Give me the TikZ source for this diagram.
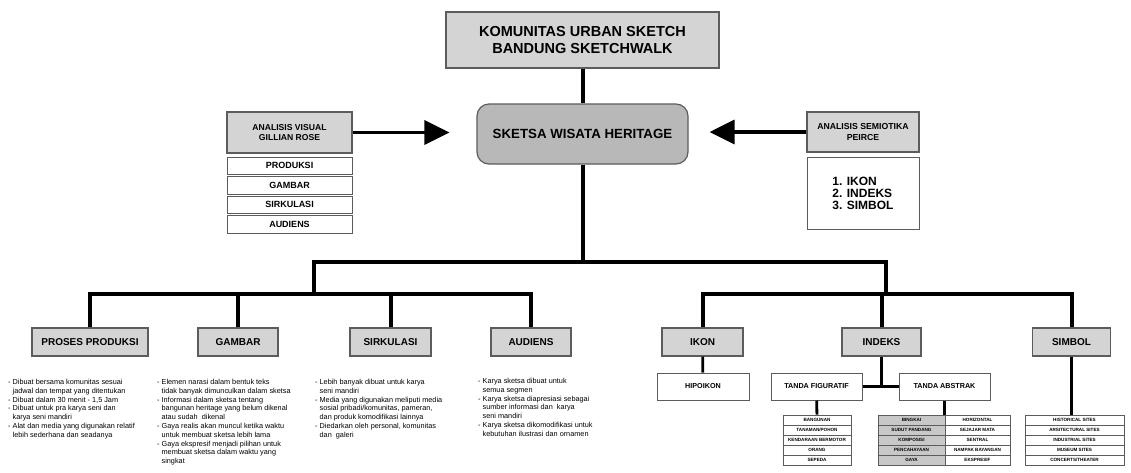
\documentclass[tikz,border=0pt]{standalone}
\usepackage{fontspec}
\setmainfont{Liberation Sans}
\usetikzlibrary{arrows.meta,positioning}

\definecolor{boxgrey}{HTML}{D4D4D4}
\definecolor{heritagegrey}{HTML}{B8B8B8}
\definecolor{cellgrey}{HTML}{C8C8C8}
\definecolor{edgegrey}{HTML}{5C5C5C}
\newcommand{\cont}{\hphantom{- }}

\begin{document}
\begin{tikzpicture}[x=1pt,y=-1pt,
    grey box/.style={draw=edgegrey,fill=boxgrey,line width=1.2pt,align=center,inner sep=0pt},
    white box/.style={draw=edgegrey,fill=white,line width=1pt,align=center,inner sep=0pt},
    level box/.style={grey box,minimum height=28pt,font=\fontsize{10}{12}\selectfont\bfseries},
    tree line/.style={line width=4pt},
    sub line/.style={line width=2.8pt},
    big arrow/.style={line width=3.5pt,-{Triangle[length=25pt,width=24pt]}},
    note/.style={anchor=north west,align=left,inner sep=0pt,font=\fontsize{7.3}{8.8}\selectfont},
    cell/.style={draw=edgegrey,line width=0.6pt,minimum height=10pt,inner sep=0pt,
                 font=\fontsize{4.6}{5}\selectfont\bfseries}]

  \fill[white] (0,0) rectangle (1131,472);
  \useasboundingbox (0,0) rectangle (1131,472);

  % top of the tree
  \node[grey box,minimum width=273pt,minimum height=56pt,
        font=\fontsize{14.5}{16.5}\selectfont\bfseries] (komunitas) at (582.5,40)
        {KOMUNITAS URBAN SKETCH\\BANDUNG SKETCHWALK};
  \node[grey box,fill=heritagegrey,rounded corners=12pt,minimum width=211pt,minimum height=60pt,
        font=\fontsize{13.3}{15}\selectfont\bfseries] (sketsa) at (582.5,134) {SKETSA WISATA HERITAGE};

  % analisis visual
  \node[grey box,minimum width=125pt,minimum height=41pt,
        font=\fontsize{8.6}{10.3}\selectfont\bfseries] (visual) at (289.5,132.5)
        {ANALISIS VISUAL\\GILLIAN ROSE};
  \tikzset{row/.style={white box,minimum width=125pt,minimum height=17.5pt,
                       font=\fontsize{9}{10}\selectfont\bfseries}}
  \node[row,below=3pt of visual] (vis1) {PRODUKSI};
  \node[row,below=1pt of vis1] (vis2) {GAMBAR};
  \node[row,below=1pt of vis2] (vis3) {SIRKULASI};
  \node[row,below=1pt of vis3] (vis4) {AUDIENS};

  % analisis semiotika
  \node[grey box,minimum width=112pt,minimum height=40pt,
        font=\fontsize{8.7}{10.3}\selectfont\bfseries] (semiotika) at (863,132)
        {ANALISIS SEMIOTIKA\\PEIRCE};
  \node[white box,below=4pt of semiotika,minimum width=112pt,minimum height=72pt,align=left,
        font=\fontsize{12}{11.8}\selectfont\bfseries] (semlist)
        {1. IKON\\2. INDEKS\\3. SIMBOL};

  \draw[big arrow,shorten >=27pt] (visual.east) -- (visual.east -| sketsa.west);
  \draw[big arrow,shorten >=21pt] (semiotika.west) -- (semiotika.west -| sketsa.east);
  \draw[tree line] (komunitas) -- (sketsa);

  % second level
  \node[level box,minimum width=116pt] (proses) at (90,342) {PROSES PRODUKSI};
  \node[level box,minimum width=80pt] (gambar) at (238,342) {GAMBAR};
  \node[level box,minimum width=81pt] (sirkulasi) at (390.5,342) {SIRKULASI};
  \node[level box,minimum width=80pt] (audiens) at (531,342) {AUDIENS};
  \node[level box,minimum width=81pt] (ikon) at (702.5,342) {IKON};
  \node[level box,minimum width=79pt] (indeks) at (881.5,342) {INDEKS};
  \node[level box,minimum width=78pt] (simbol) at (1071.5,342) {SIMBOL};

  \coordinate (hub) at (582.5,262);
  \coordinate (hub left) at (314,262);
  \coordinate (hub right) at (886,262);
  \coordinate (bar left) at (314,294);
  \coordinate (bar right) at (886,294);

  \draw[tree line] (sketsa) -- (hub);
  \draw[tree line] (bar left) -- (hub left) -- (hub right) -- (bar right);
  \draw[tree line] (proses.north) |- (bar left) -| (audiens.north);
  \draw[tree line] (gambar.north) -- (gambar.north |- bar left);
  \draw[tree line] (sirkulasi.north) -- (sirkulasi.north |- bar left);
  \draw[tree line] (ikon.north) |- (bar right) -| (simbol.north);
  \draw[tree line] (indeks.north) -- (indeks.north |- bar right);

  % notes under the visual side
  \node[note] (proses text) at (8,379) {%
    - Dibuat bersama komunitas sesuai\\
    \cont jadwal dan tempat yang ditentukan\\
    - Dibuat dalam 30 menit - 1,5 Jam\\
    - Dibuat untuk pra karya seni dan\\
    \cont karya seni mandiri\\
    - Alat dan media yang digunakan relatif\\
    \cont lebih sederhana dan seadanya};
  \node[note] (gambar text) at (157,379) {%
    - Elemen narasi dalam bentuk teks\\
    \cont tidak banyak dimunculkan dalam sketsa\\
    - Informasi dalam sketsa tentang\\
    \cont bangunan heritage yang belum dikenal\\
    \cont atau sudah\ \ dikenal\\
    - Gaya realis akan muncul ketika waktu\\
    \cont untuk membuat sketsa lebih lama\\
    - Gaya ekspresif menjadi pilihan untuk\\
    \cont membuat sketsa dalam waktu yang\\
    \cont singkat};
  \node[note] (sirkulasi text) at (315,379) {%
    - Lebih banyak dibuat untuk karya\\
    \cont seni mandiri\\
    - Media yang digunakan meliputi media\\
    \cont sosial pribadi/komunitas, pameran,\\
    \cont dan produk komodifikasi lainnya\\
    - Diedarkan oleh personal, komunitas\\
    \cont dan\ \ galeri};
  \node[note] (audiens text) at (478,378) {%
    - Karya sketsa dibuat untuk\\
    \cont semua segmen\\
    - Karya sketsa diapresiasi sebagai\\
    \cont sumber informasi dan\ \ karya\\
    \cont seni mandiri\\
    - Karya sketsa dikomodifikasi untuk\\
    \cont kebutuhan ilustrasi dan ornamen};

  % semiotic side
  \tikzset{sub box/.style={white box,minimum height=27pt,font=\fontsize{7.2}{8}\selectfont\bfseries}}
  \node[sub box,minimum width=92pt] (hipoikon) at (703,386.5) {HIPOIKON};
  \node[sub box,minimum width=91pt] (figuratif) at (816.5,386.5) {TANDA FIGURATIF};
  \node[sub box,minimum width=91pt] (abstrak) at (944.5,386.5) {TANDA ABSTRAK};

  \foreach \txt [count=\i] in {BANGUNAN,TANAMAN/POHON,KENDARAAN BERMOTOR,ORANG,SEPEDA}
    \node[cell,fill=white,minimum width=68pt] (fig\i) at (817,410+10*\i) {\txt};
  \foreach \left/\right [count=\i] in {BINGKAI/HORIZONTAL,SUDUT PANDANG/SEJAJAR MATA,
      KOMPOSISI/SENTRAL,PENCAHAYAAN/NAMPAK BAYANGAN,GAYA/EKSPRESIF} {
    \node[cell,fill=cellgrey,minimum width=67pt] (absl\i) at (911.5,410+10*\i) {\left};
    \node[cell,fill=white,minimum width=65pt] (absr\i) at (977.5,410+10*\i) {\right};
  }
  \foreach \txt [count=\i] in {HISTORICAL SITES,ARSITECTURAL SITES,INDUSTRIAL SITES,
      MUSEUM SITES,CONCERTS/THEATER}
    \node[cell,fill=white,minimum width=99pt] (sim\i) at (1074.5,410+10*\i) {\txt};

  \draw[sub line] (ikon) -- (hipoikon);
  \draw[sub line] (indeks.south) -- (indeks.south |- figuratif.east);
  \draw[sub line] (figuratif) -- (abstrak);
  \draw[sub line] (figuratif) -- (fig1);
  \draw[sub line] (abstrak.south) -- (abstrak.south |- absl1.north);
  \draw[sub line] (simbol.south) -- (simbol.south |- sim1.north);
\end{tikzpicture}
\end{document}
